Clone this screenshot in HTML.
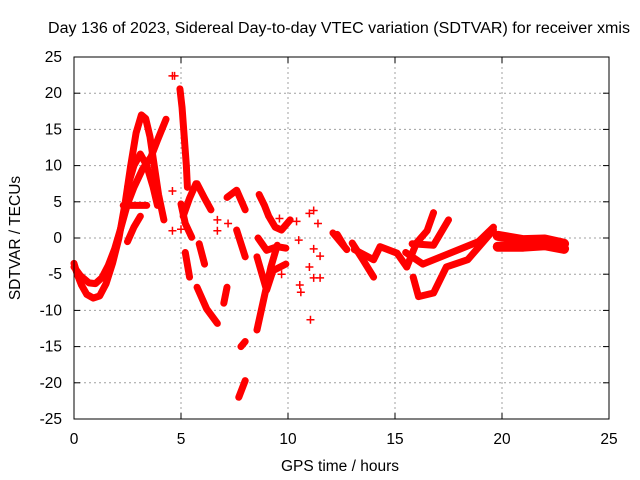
<!DOCTYPE html>
<html><head><meta charset="utf-8"><style>
body{margin:0;background:#fff}
svg{display:block;font-family:"Liberation Sans",sans-serif}
</style></head><body>
<svg id="chart" width="640" height="480" viewBox="0 0 640 480">
<text x="48" y="33" font-size="15.5" textLength="582" lengthAdjust="spacingAndGlyphs">Day 136 of 2023, Sidereal Day-to-day VTEC variation (SDTVAR) for receiver xmis</text>
<text x="340" y="471" font-size="15.5" text-anchor="middle">GPS time / hours</text>
<text transform="translate(20,238) rotate(-90)" font-size="15.5" text-anchor="middle">SDTVAR / TECUs</text>
<g id="grid"></g><g id="ticks"></g><g id="marks"></g>
<rect x="74" y="57" width="535" height="362" fill="none" stroke="#000" stroke-width="1"/>
</svg>
<script>
const xTicks=[0,5,10,15,20,25];
const yTicks=[25,20,15,10,5,0,-5,-10,-15,-20,-25];
const trackA=[[0,-3.5],[0.15,-5],[0.35,-6.5],[0.6,-7.8],[0.9,-8.3],[1.2,-8],[1.5,-6.3],[1.8,-3.5],[2.1,0],[2.4,5],[2.65,10],[2.9,14.5],[3.15,17],[3.35,16.5],[3.55,14],[3.75,10],[3.95,6],[4.2,2.5]];
const trackB=[[0,-4],[0.3,-5.2],[0.7,-6.2],[1.0,-6.3],[1.3,-5.5],[1.6,-3.8],[1.9,-1.5],[2.2,1.5],[2.5,4.7],[2.8,7],[3.2,9.5],[3.6,11.2],[3.9,13.5],[4.3,16.4]];
const trackC=[[2.5,7],[2.8,10],[3.1,11.6],[3.4,10],[3.7,7],[3.9,4.5]];
const trackD=[[2.5,-0.5],[2.8,1.5],[3.1,3]];
const trackE=[[2.3,4.5],[3.0,4.5],[3.4,4.5]];
const trackF=[[4.95,20.6],[5.05,18],[5.15,14],[5.25,10],[5.3,7]];
const trackG=[[5.0,4.7],[5.2,2],[5.5,0.1]];
const trackH=[[5.2,-2],[5.4,-5.4]];
const trackI=[[5.1,3],[5.4,5.5],[5.7,7.5]];
const trackJ=[[5.75,7.5],[6.1,5.5],[6.4,3.9]];
const trackK=[[5.85,-0.8],[6.1,-3.6]];
const trackL=[[5.75,-6.8],[6.2,-9.8],[6.7,-11.8]];
const trackM=[[7.15,5.6],[7.6,6.6],[8.0,3.9]];
const trackN=[[7.6,1.1],[8.0,-2.6]];
const trackO=[[7.0,-9],[7.15,-6.8]];
const trackP=[[7.8,-15],[8.0,-14.3]];
const trackQ=[[7.7,-22],[8.0,-19.7]];
const trackR=[[8.65,6],[8.9,4.5],[9.1,3],[9.4,1.5],[9.7,1.1],[10.1,2.5]];
const trackS=[[8.6,0],[9.0,-1.7],[9.5,-1.2],[9.9,-1.4]];
const trackT=[[8.55,-2.6],[9.0,-7.2],[9.3,-4.5],[9.9,-3.6]];
const trackU=[[8.55,-12.7],[8.9,-8],[9.2,-4],[9.5,-1]];
const trackV=[[12.1,0.7],[12.75,-1.6]];
const trackW=[[13.0,-0.7],[13.5,-3],[14.0,-5.4]];
const trackX=[[13.1,-1.6],[14.0,-3],[14.3,-1.2],[15.1,-2.1],[15.55,-4]];
const trackY=[[15.55,-4],[16.0,-0.7],[16.5,1],[16.8,3.5]];
const trackZ=[[15.85,-5.4],[16.1,-8.1],[16.8,-7.6],[17.4,-4],[18.4,-3],[19.6,1.1]];
const trackAA=[[15.5,-2],[16.3,-3.6],[17.4,-2.3],[18.9,-0.5],[19.6,1.5]];
const trackAB=[[15.8,-0.8],[16.8,-1],[17.5,2.5]];
const trackAC=[[19.8,0.3],[21,-0.3],[22,-0.2],[22.9,-0.8]];
const trackAD=[[19.8,-1.2],[21,-1.2],[22,-1],[22.9,-1.5]];
const trackAE=[[12.3,0.5],[12.6,-1]];
const tracks=[trackA,trackB,trackC,trackD,trackE,trackF,trackG,trackH,trackI,trackJ,trackK,trackL,trackM,trackN,trackO,trackP,trackQ,trackR,trackS,trackT,trackU,trackV,trackW,trackX,trackY,trackZ,trackAA,trackAB,trackAC,trackAD,trackAE];
const points=[[4.6,22.4],[4.7,22.4],[4.6,6.5],[4.6,1],[5.0,1.2],[6.7,2.5],[6.7,1],[7.2,2],[10.4,2.3],[10.5,-0.3],[10.55,-6.5],[10.6,-7.5],[11.0,3.4],[11.2,3.8],[11.4,2],[11.2,-1.5],[11.5,-2.5],[11.0,-4],[11.2,-5.5],[11.5,-5.5],[11.05,-11.3],[9.6,2.7],[9.7,-5]];
const NS="http://www.w3.org/2000/svg";
const X0=74,X1=609,Y0=419,Y1=57;
function sx(t){return X0+(t-0)/25*(X1-X0);}
function sy(v){return Y0-(v+25)/50*(Y0-Y1);}
const grid=document.getElementById('grid'),ticks=document.getElementById('ticks'),marks=document.getElementById('marks');
function mk(tag,attrs,parent){const e=document.createElementNS(NS,tag);for(const k in attrs)e.setAttribute(k,attrs[k]);parent.appendChild(e);return e;}
xTicks.forEach(t=>{const x=sx(t);
 if(t>0&&t<25){const g=mk('line',{x1:x,x2:x,y1:Y1,y2:Y0,stroke:'#a0a0a0','stroke-dasharray':'2,3'},grid);
 
 }
 mk('line',{x1:x,x2:x,y1:Y0,y2:Y0-6,stroke:'#000'},ticks);mk('line',{x1:x,x2:x,y1:Y1,y2:Y1+6,stroke:'#000'},ticks);
 const l=mk('text',{x:x,y:Y0+25,'font-size':15.5,'text-anchor':'middle'},ticks);l.textContent=t;
 
 });
yTicks.forEach(v=>{const y=sy(v);
 if(v>-25&&v<25){const g=mk('line',{x1:X0,x2:X1,y1:y,y2:y,stroke:'#a0a0a0','stroke-dasharray':'2,3'},grid);
 
 }
 mk('line',{x1:X0,x2:X0+6,y1:y,y2:y,stroke:'#000'},ticks);mk('line',{x1:X1,x2:X1-6,y1:y,y2:y,stroke:'#000'},ticks);
 const l=mk('text',{x:62,y:y+5,'font-size':15.5,'text-anchor':'end'},ticks);l.textContent=v;
 
 });
tracks.forEach(tr=>{const p=mk('polyline',{points:tr.map(d=>sx(d[0])+','+sy(d[1])).join(' '),fill:'none',stroke:'#f00','stroke-width':tr===trackAC||tr===trackAD?10:7,'stroke-linecap':'round','stroke-linejoin':'round'},marks);
 
 });
points.forEach(d=>{const x=sx(d[0]),y=sy(d[1]);
 const p=mk('path',{d:`M${x-4},${y}H${x+4}M${x},${y-4}V${y+4}`,stroke:'#f00','stroke-width':1.5},marks);
 
 });
</script>
</body></html>
